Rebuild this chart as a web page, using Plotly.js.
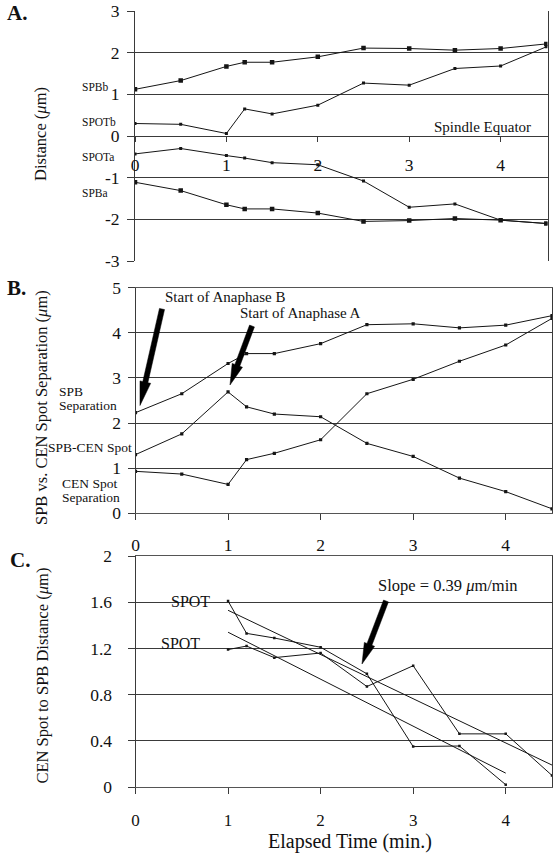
<!DOCTYPE html>
<html><head><meta charset="utf-8">
<script src="https://cdn.plot.ly/plotly-3.0.1.min.js"></script>
<style>html,body{margin:0;padding:0;background:#fff;}#chart{width:555px;height:853px;}</style>
</head><body><div id="chart"></div>
<script>
// ---------- data ----------
const timeAB = [0, 0.5, 1, 1.2, 1.5, 2, 2.5, 3, 3.5, 4, 4.5];
// Panel A: distance from spindle equator (um)
const spbB  = [1.12, 1.33, 1.67, 1.77, 1.77, 1.90, 2.11, 2.10, 2.06, 2.10, 2.21];
const spotB = [0.30, 0.28, 0.06, 0.65, 0.53, 0.74, 1.27, 1.22, 1.62, 1.68, 2.14];
const spotA = [-0.43, -0.30, -0.47, -0.53, -0.64, -0.69, -1.08, -1.71, -1.63, -2.02, -2.10];
const spbA  = [-1.11, -1.31, -1.65, -1.75, -1.75, -1.85, -2.05, -2.03, -1.98, -2.02, -2.10];
// Panel B: separations (um)
const spbSep    = [2.23, 2.65, 3.32, 3.54, 3.54, 3.76, 4.18, 4.20, 4.11, 4.17, 4.38];
const spbCenSep = [1.30, 1.76, 2.69, 2.36, 2.20, 2.14, 1.55, 1.26, 0.78, 0.48, 0.10];
const cenSep    = [0.93, 0.87, 0.64, 1.19, 1.33, 1.63, 2.65, 2.97, 3.37, 3.73, 4.32];
// Panel C: CEN spot to SPB distance (um)
const timeC1 = [1, 1.2, 1.5, 2, 2.5, 3, 3.5, 4];
const spotC1 = [1.61, 1.33, 1.29, 1.21, 0.98, 0.35, 0.355, 0.02];
const timeC2 = [1, 1.2, 1.5, 2, 2.5, 3, 3.5, 4, 4.5];
const spotC2 = [1.19, 1.22, 1.12, 1.16, 0.87, 1.05, 0.46, 0.46, 0.10];
const fitX1 = [1, 4.5];
const fitY1 = [1.53, 0.19];
const fitX2 = [1, 4];
const fitY2 = [1.34, 0.12];
// tick labels
const xTicks = [0, 1, 2, 3, 4];
const xTickText = ['0', '1', '2', '3', '4'];
const yTicksA = [-3, -2, -1, 0, 1, 2, 3];
const yTickTextA = ['-3', '-2', '-1', '0', '1', '2', '3'];
const yTicksB = [0, 1, 2, 3, 4, 5];
const yTickTextB = ['0', '1', '2', '3', '4', '5'];
const yTicksC = [0, 0.4, 0.8, 1.2, 1.6, 2];
const yTickTextC = ['0', '0.4', '0.8', '1.2', '1.6', '2'];

// ---------- layout helpers ----------
const FONT = 'Liberation Serif, "Times New Roman", Times, serif';
const W = 555, H = 853;
const fx = p => p / W;
const fy = p => 1 - p / H;
const INK = '#151515';
const GRID = '#3a3a3a';

function line(x, y, xa, ya, msize, mode) {
  return {
    x: x, y: y, xaxis: xa, yaxis: ya, type: 'scatter', mode: mode || 'lines+markers',
    line: {color: INK, width: 1},
    marker: {symbol: 'square', size: msize, color: INK},
    hoverinfo: 'skip', showlegend: false
  };
}

const traces = [
  line(timeAB, spbB, 'x', 'y', 4.5),
  line(timeAB, spotB, 'x', 'y', 3),
  line(timeAB, spotA, 'x', 'y', 3),
  line(timeAB, spbA, 'x', 'y', 4.5),
  line(timeAB, spbSep, 'x2', 'y2', 3.2),
  line(timeAB, spbCenSep, 'x2', 'y2', 3.2),
  line(timeAB, cenSep, 'x2', 'y2', 3.2),
  line(timeC1, spotC1, 'x3', 'y3', 2.5),
  line(timeC2, spotC2, 'x3', 'y3', 2.5),
  line(fitX1, fitY1, 'x3', 'y3', 0, 'lines'),
  line(fitX2, fitY2, 'x3', 'y3', 0, 'lines')
];

const tickFont = {family: FONT, size: 17.5, color: '#111'};

function xAxis(domain, range, anchor, extra) {
  return Object.assign({
    domain: domain, range: range, anchor: anchor,
    tickmode: 'array', tickvals: xTicks, ticktext: xTickText,
    ticks: 'outside', ticklen: 6, tickcolor: GRID, tickwidth: 1,
    showgrid: false, zeroline: false, showline: true, mirror: true,
    linecolor: '#555', linewidth: 1, tickfont: tickFont, fixedrange: true
  }, extra || {});
}
function yAxis(domain, range, anchor, vals, text, extra) {
  return Object.assign({
    domain: domain, range: range, anchor: anchor,
    tickmode: 'array', tickvals: vals, ticktext: text,
    ticks: 'outside', ticklen: 7, tickcolor: GRID, tickwidth: 1,
    showgrid: true, gridcolor: GRID, gridwidth: 1,
    zeroline: false, showline: true, mirror: true,
    linecolor: GRID, linewidth: 1, tickfont: tickFont, fixedrange: true
  }, extra || {});
}

const domXA = [fx(135), fx(547.5)];
const domXBC = [fx(135.5), fx(552)];
const domYA = [fy(261), fy(11)];
const domYB = [fy(513.3), fy(287.7)];
const domYC = [fy(787), fy(556)];

function ann(text, x, y, size, extra) {
  return Object.assign({
    text: text, x: fx(x), y: fy(y), xref: 'paper', yref: 'paper',
    xanchor: 'left', yanchor: 'middle', showarrow: false,
    font: {family: FONT, size: size, color: '#111'}, borderpad: 0
  }, extra || {});
}

const annotations = [
  ann('<b>A.</b>', 6, 13, 21),
  ann('<b>B.</b>', 6, 287.5, 21),
  ann('<b>C.</b>', 9, 560, 21),
  ann('SPBb', 81, 87, 11.5),
  ann('SPOTb', 81, 122, 11.5),
  ann('SPOTa', 81, 157, 11.5),
  ann('SPBa', 81, 193, 11.5),
  ann('Spindle Equator', 433, 127, 15),
  ann('SPB', 58, 391, 13.5),
  ann('Separation', 58, 405.7, 13.5),
  ann('SPB-CEN Spot', 47, 447.7, 13.5),
  ann('CEN Spot', 61, 483.3, 13.5),
  ann('Separation', 61, 497.3, 13.5),
  ann('Start of Anaphase B', 164, 297.3, 15),
  ann('Start of Anaphase A', 239, 313.3, 15),
  ann('SPOT', 170, 601, 16),
  ann('SPOT', 160, 643.3, 16),
  ann('Slope = 0.39 <i>μ</i>m/min', 377, 585, 16.5),
  ann('Distance (<i>μ</i>m)', 40, 134, 16.5, {xanchor: 'center', textangle: -90}),
  ann('SPB vs. CEN Spot Separation (<i>μ</i>m)', 41.5, 407.5, 16.5, {xanchor: 'center', textangle: -90}),
  ann('CEN Spot to SPB Distance (<i>μ</i>m)', 42, 675.5, 16.5, {xanchor: 'center', textangle: -90}),
  ann('Elapsed Time (min.)', 349.5, 841.5, 20, {xanchor: 'center'})
];

// thick black arrows: tail and tip in page pixels
function arrowPath(tail, tip, w, hw, hl) {
  const dx = tip[0] - tail[0], dy = tip[1] - tail[1];
  const len = Math.hypot(dx, dy);
  const ux = dx / len, uy = dy / len, nx = -uy, ny = ux;
  const bx = tip[0] - ux * hl, by = tip[1] - uy * hl;
  const pts = [
    [tail[0] + nx * w, tail[1] + ny * w],
    [bx + nx * w, by + ny * w],
    [bx + nx * hw, by + ny * hw],
    [tip[0], tip[1]],
    [bx - nx * hw, by - ny * hw],
    [bx - nx * w, by - ny * w],
    [tail[0] - nx * w, tail[1] - ny * w]
  ];
  return 'M' + pts.map(p => fx(p[0]).toFixed(5) + ',' + fy(p[1]).toFixed(5)).join('L') + 'Z';
}
const arrowShape = (tail, tip, hl) => ({
  type: 'path', xref: 'paper', yref: 'paper',
  path: arrowPath(tail, tip, 2.6, 5.5, hl),
  fillcolor: '#000', line: {color: '#000', width: 0.5}
});
const shapes = [
  arrowShape([162, 309], [140, 405.5], 24),
  arrowShape([252, 326], [230, 385], 21),
  arrowShape([386, 601], [362, 664], 21)
];

const layout = {
  width: W, height: H,
  margin: {l: 0, r: 0, t: 0, b: 0},
  paper_bgcolor: '#fff', plot_bgcolor: '#fff',
  font: {family: FONT, color: '#111'},
  showlegend: false,
  // Panel A: x axis crosses at y = 0
  xaxis: xAxis(domXA, [0, 4.513], 'free', {position: fy(136), showline: false, mirror: false, ticklen: 5, ticklabelstandoff: 8}),
  xaxis4: xAxis(domXA, [0, 4.513], 'y', {overlaying: 'x', showticklabels: false, ticks: '', mirror: true, showline: true}),
  yaxis: yAxis(domYA, [-3, 3], 'x', yTicksA, yTickTextA, {zeroline: true, zerolinecolor: GRID, zerolinewidth: 1, ticklabelstandoff: 4}),
  // Panel B
  xaxis2: xAxis(domXBC, [0, 4.5], 'y2', {ticklabelstandoff: 10}),
  yaxis2: yAxis(domYB, [0, 5], 'x2', yTicksB, yTickTextB, {ticklabelstandoff: 3}),
  // Panel C
  xaxis3: xAxis(domXBC, [0, 4.5], 'y3', {ticklabelstandoff: 12, tickfont: {family: FONT, size: 17, color: '#111'}}),
  yaxis3: yAxis(domYC, [0, 2], 'x3', yTicksC, yTickTextC, {ticklabelstandoff: 12}),
  annotations: annotations,
  shapes: shapes
};

Plotly.newPlot('chart', traces, layout, {staticPlot: true, displayModeBar: false});
</script>
</body></html>
